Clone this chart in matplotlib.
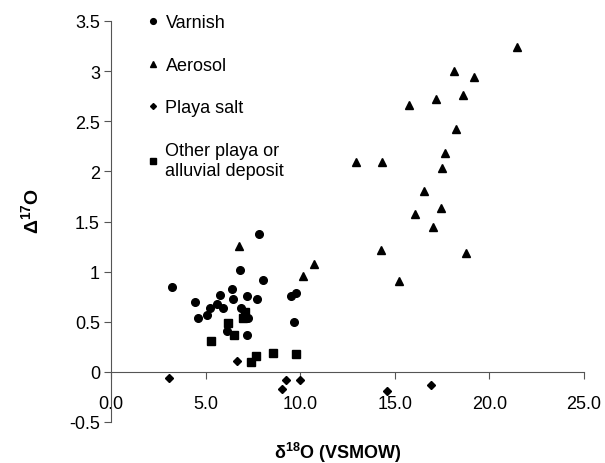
import matplotlib
matplotlib.use("Agg")
import matplotlib.pyplot as plt

plt.rcParams['font.family'] = ['Liberation Sans', 'DejaVu Sans']
plt.rcParams['mathtext.fontset'] = 'custom'
plt.rcParams['mathtext.rm'] = 'Liberation Sans'
plt.rcParams['mathtext.bf'] = 'Liberation Sans:bold'

# d18O (x) and D17O (y)
varnish_x = [7.82, 6.84, 8.03, 3.22, 6.40, 5.74, 6.45, 7.19, 7.72, 9.50, 9.76,
             4.46, 5.60, 5.21, 5.94, 6.86, 4.58, 5.09, 7.22, 6.13, 7.17, 9.69]
varnish_y = [1.38, 1.02, 0.92, 0.85, 0.83, 0.77, 0.73, 0.76, 0.73, 0.76, 0.79,
             0.70, 0.68, 0.64, 0.64, 0.64, 0.54, 0.57, 0.54, 0.41, 0.37, 0.50]

aerosol_x = [21.48, 18.11, 19.20, 18.58, 17.19, 15.75, 18.22, 17.65, 12.95, 14.32,
             17.47, 16.52, 17.44, 16.05, 17.00, 14.29, 18.76, 15.20, 6.75, 10.17, 10.75]
aerosol_y = [3.24, 3.00, 2.94, 2.76, 2.72, 2.66, 2.42, 2.18, 2.09, 2.09,
             2.03, 1.80, 1.63, 1.57, 1.45, 1.22, 1.19, 0.91, 1.26, 0.96, 1.08]

playa_x = [6.66, 3.07, 9.25, 9.97, 9.06, 14.57, 16.90]
playa_y = [0.11, -0.06, -0.08, -0.08, -0.17, -0.19, -0.13]

other_x = [7.10, 6.99, 6.18, 6.50, 5.27, 8.58, 9.76, 7.68, 7.38]
other_y = [0.60, 0.54, 0.49, 0.37, 0.31, 0.19, 0.18, 0.16, 0.10]

x_ticks = [0, 5, 10, 15, 20, 25]
y_ticks = [-0.5, 0, 0.5, 1, 1.5, 2, 2.5, 3, 3.5]

fig = plt.figure(figsize=(6.05, 4.64), dpi=100)
ax = fig.add_axes([111 / 605, 41 / 464, 473 / 605, 401 / 464])

ax.plot(varnish_x, varnish_y, 'o', color='black', ms=5.5, ls='none', label='Varnish')
ax.plot(aerosol_x, aerosol_y, '^', color='black', ms=6, ls='none', label='Aerosol')
ax.plot(playa_x, playa_y, 'D', color='black', ms=4, ls='none', label='Playa salt')
ax.plot(other_x, other_y, 's', color='black', ms=5.5, ls='none',
        label='Other playa or\nalluvial deposit')

ax.set_xlim(0, 25)
ax.set_ylim(-0.5, 3.5)
ax.set_xticks(x_ticks)
ax.set_xticklabels([f'{v:.1f}' for v in x_ticks])
ax.set_yticks(y_ticks)
ax.set_yticklabels([f'{v:g}' for v in y_ticks])

for s in ['top', 'right']:
    ax.spines[s].set_visible(False)
ax.spines['bottom'].set_position(('data', 0))
for s in ['left', 'bottom']:
    ax.spines[s].set_color('#555555')
    ax.spines[s].set_linewidth(0.8)

ax.tick_params(axis='x', direction='out', length=5, width=0.8, color='#555555',
               labelsize=13, pad=12)
ax.tick_params(axis='y', direction='out', length=5, width=0.8, color='#555555',
               labelsize=13, pad=3)

ax.set_xlabel(r'$\mathbf{\delta^{18}O}$ (VSMOW)', fontsize=13, fontweight='bold')
ax.xaxis.set_label_coords(0.48, -0.045)
ax.set_ylabel(r'$\mathbf{\Delta^{17}O}$', fontsize=14, fontweight='bold')
ax.yaxis.set_label_coords(-0.145, 0.53)

ax.legend(loc='upper left', bbox_to_anchor=(0.056, 1.035), frameon=False, fontsize=13,
          labelspacing=1.42, handletextpad=0.25, handlelength=0.9, markerscale=0.75,
          borderaxespad=0)

fig.savefig('out.png', dpi=100)
